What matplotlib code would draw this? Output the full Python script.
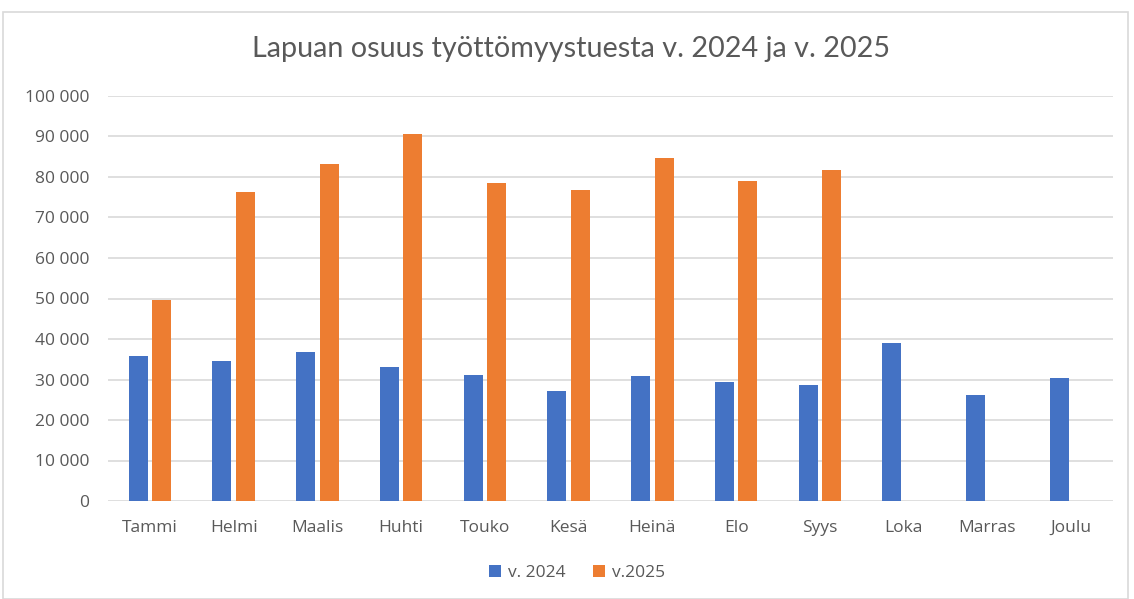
import matplotlib
matplotlib.use("Agg")
import matplotlib.pyplot as plt
import numpy as np
from matplotlib.patches import Rectangle
from matplotlib.ticker import FuncFormatter, MultipleLocator

months = ["Tammi", "Helmi", "Maalis", "Huhti", "Touko", "Kesä", "Heinä",
          "Elo", "Syys", "Loka", "Marras", "Joulu"]
v2024 = [35800, 34500, 36800, 33100, 31000, 27100, 30800, 29400, 28600,
         39100, 26200, 30400]
v2025 = [49600, 76400, 83100, 90500, 78500, 76700, 84800, 79100, 81700,
         None, None, None]
series_labels = ["v. 2024", "v.2025"]
title = "Lapuan osuus työttömyystuesta v. 2024 ja v. 2025"

plt.rcParams['font.family'] = ['Open Sans', 'DejaVu Sans']
TXT = "#595959"
BLUE = "#4472C4"
ORANGE = "#ED7D31"
GRID = "#D9D9D9"

W, H = 1134, 599
fig = plt.figure(figsize=(W / 100, H / 100), dpi=100)
fig.patch.set_facecolor("white")
fig.patches.append(Rectangle((3 / W, 0), (1128 - 3) / W, (H - 12) / H,
                             transform=fig.transFigure, fill=False,
                             edgecolor=GRID, linewidth=1.2))

ax = fig.add_axes([108 / W, 1 - 501 / H, (1113 - 108) / W, (501 - 96) / H])
x = np.arange(len(months))
bw = 0.227
off = 0.139
ax.bar(x - off, v2024, width=bw, color=BLUE, label=series_labels[0], zorder=3)
y25 = [np.nan if v is None else v for v in v2025]
ax.bar(x + off, y25, width=bw, color=ORANGE, label=series_labels[1], zorder=3)

ax.set_xlim(-0.5, len(months) - 0.5)
ax.set_ylim(0, 100000)
ax.yaxis.set_major_locator(MultipleLocator(10000))
ax.yaxis.set_major_formatter(FuncFormatter(lambda v, p: f"{int(v):,}".replace(",", " ")))
ax.grid(axis="y", color=GRID, linewidth=1.2, zorder=0)
for s in ax.spines.values():
    s.set_visible(False)
ax.tick_params(axis="both", length=0, colors=TXT)
ax.tick_params(axis="y", pad=13.5, labelsize=12.5)
ax.tick_params(axis="x", pad=13.5, labelsize=12.5)
ax.set_xticks(x)
ax.set_xticklabels(months)

fig.text(571 / W, 1 - 49 / H, title, ha="center", va="center", fontsize=20.7,
         color=TXT, family=['Lato', 'DejaVu Sans'], fontweight="normal")

leg = fig.legend(loc="center", bbox_to_anchor=(577 / W, 1 - 573 / H), ncol=2,
                 frameon=False, fontsize=12.5, handlelength=0.7, handleheight=0.7,
                 handletextpad=0.4, columnspacing=1.6, labelcolor=TXT)

fig.savefig("out.png", dpi=100)
